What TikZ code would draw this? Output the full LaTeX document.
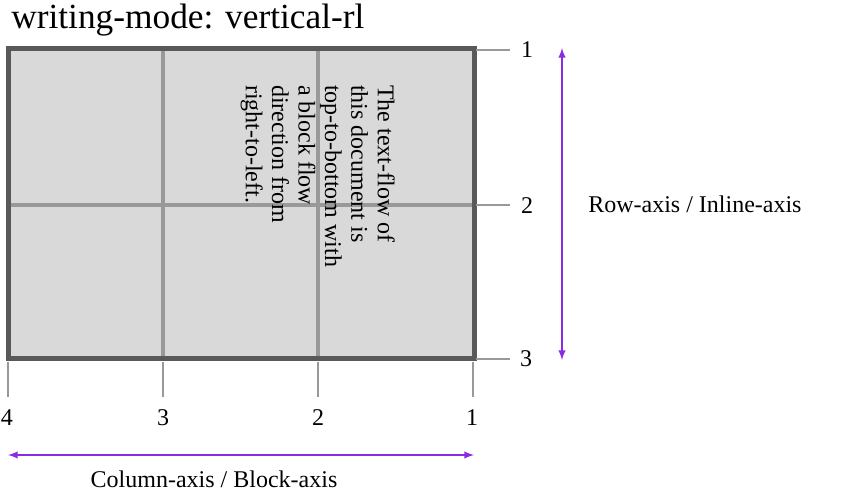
\documentclass[tikz,border=0pt]{standalone}
\usepackage{fontspec}
\setmainfont{Liberation Serif}
\usetikzlibrary{positioning}
\definecolor{gridfill}{HTML}{D9D9D9}
\definecolor{gridedge}{HTML}{595959}
\definecolor{gridline}{HTML}{999999}
\definecolor{axisviolet}{HTML}{8A2BE2}
\begin{document}
\begin{tikzpicture}[x=0.75pt, y=-0.75pt,
        txt/.style={inner sep=0pt, font=\fontsize{18}{19.8}\selectfont},
        num/.style={txt},
        tickline/.style={draw=gridline, line width=2.2pt},
        trackline/.style={draw=gridline, line width=3pt},
        axis/.style={draw=axisviolet, line width=1.5pt, <->},
        >=latex
    ]
        \useasboundingbox (0,0) rectangle (858,493);

        % Title
        \node[txt, anchor=base west, font=\fontsize{26.5}{30}\selectfont] (title) at (11,28) {writing-mode: vertical-rl};

        % Grid container
        \coordinate (NW) at (8,48);
        \coordinate (SE) at (474,358);
        \fill[gridfill] (NW) rectangle (SE);
        \draw[trackline] (163,48) -- (163,358);
        \draw[trackline] (318,48) -- (318,358);
        \draw[trackline] (8,205) -- (474,205);
        \draw[draw=gridedge, line width=3.75pt] (NW) rectangle (SE);

        % Row lines (right side)
        \coordinate (r1) at (476,50);
        \coordinate (r2) at (476,205);
        \coordinate (r3) at (476,359);
        \node[num] (R1) at (527,50) {1};
        \node[num] (R2) at (527,206) {2};
        \node[num] (R3) at (526,359) {3};
        \draw[tickline] (r1) -- (510,50);
        \draw[tickline] (r2) -- (510,205);
        \draw[tickline] (r3) -- (510,359);

        % Column lines (bottom)
        \coordinate (c4) at (8,362);
        \coordinate (c3) at (163,362);
        \coordinate (c2) at (318,362);
        \coordinate (c1) at (473,362);
        \node[num] (C4) at (7,418) {4};
        \node[num] (C3) at (163,418) {3};
        \node[num] (C2) at (318,418) {2};
        \node[num] (C1) at (472,418) {1};
        \draw[tickline] (c4) -- (8,397);
        \draw[tickline] (c3) -- (163,397);
        \draw[tickline] (c2) -- (318,397);
        \draw[tickline] (c1) -- (473,397);

        % Text flow
        \node[txt, rotate=-90, anchor=north west, align=left] (flow) at (395,85)
            {The text-flow of\\this document is\\top-to-bottom with\\a block flow\\direction from\\right-to-left.};

        % Axes
        \coordinate (rowtop) at (562,48);
        \coordinate (rowbot) at (562,360);
        \coordinate (colleft) at (8,455);
        \coordinate (colright) at (474,455);
        \draw[axis] (rowtop) -- (rowbot);
        \draw[axis] (colleft) -- (colright);
        \node[txt, anchor=west] (rowlabel) at (588,204) {Row-axis / Inline-axis};
        \node[txt, anchor=base] (collabel) at (214,487) {Column-axis / Block-axis};
    \end{tikzpicture}
\end{document}
